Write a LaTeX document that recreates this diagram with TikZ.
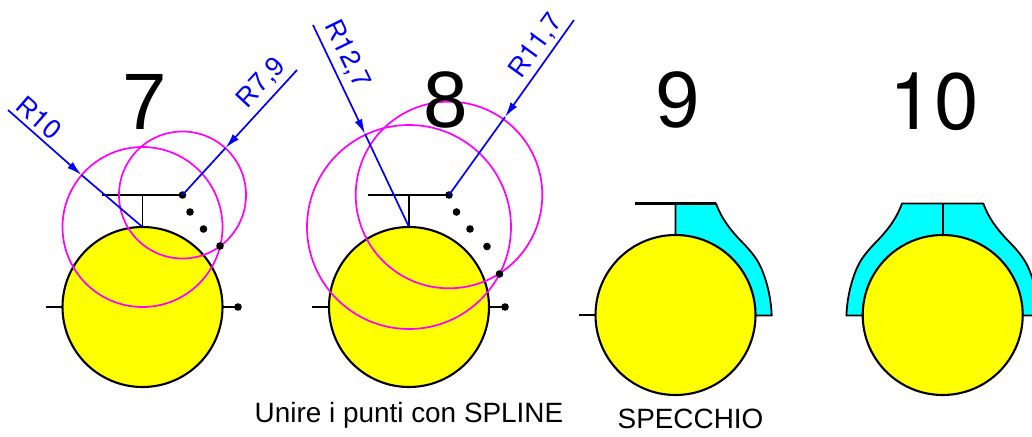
\documentclass[tikz,border=0pt]{standalone}
\usepackage{fontspec}
\setmainfont{Liberation Sans}
\newfontfamily\heros{TeX Gyre Heros}
\usetikzlibrary{arrows.meta}
\definecolor{pyellow}{RGB}{255,255,0}
\definecolor{pcyan}{RGB}{0,255,255}
\definecolor{pmagenta}{RGB}{255,0,255}
\definecolor{pblue}{RGB}{0,0,255}
\tikzset{
  x=1pt,y=-1pt,
  roller/.style={draw=black,fill=pyellow,line width=2.1pt},
  guide/.style={draw=pmagenta,line width=1.7pt},
  bar/.style={draw=black,line width=2.6pt},
  stem/.style={draw=black,line width=1.8pt},
  tick/.style={draw=black,line width=1.5pt},
  radius line/.style={draw=pblue,line width=1.7pt},
  radius arrow/.style={draw=pblue,line width=1.7pt,-{Latex[length=15pt,width=8pt]}},
  pointdot/.style={circle,fill=black,inner sep=0pt,minimum size=7.6pt},
  bignum/.style={font=\fontsize{80}{80}\selectfont,inner sep=0pt},
  rlabel/.style={text=pblue,font=\fontsize{27}{27}\selectfont,inner sep=0pt},
  caption/.style={font=\fontsize{27.9}{28}\selectfont,inner sep=0pt},
  mirror/.style={draw=black,fill=pcyan,line width=1.8pt,line join=round},
}
\begin{document}
\begin{tikzpicture}
\clip (0,0) rectangle (1032,436);
% ---------- 7
\coordinate (c7) at (142.5,307);
\draw[tick] (46,307) -- (c7);
\draw[tick] (c7) -- (238,307);
\draw[roller] (c7) circle[radius=80];
\coordinate (t7) at (142.5,227);
\coordinate (m7) at (142.5,195);
\coordinate (l7) at (102,195);
\coordinate (r7) at (182.5,195);
\draw[bar] (l7) -- (r7);
\draw[stem] (m7) -- (t7);
\draw[guide] (t7) circle[radius=80];
\draw[guide] (r7) circle[radius=63.5];
\node[pointdot] (p71) at (r7) {};
\node[pointdot] (p72) at (190,212) {};
\node[pointdot] (p73) at (203.5,229) {};
\node[pointdot] (p74) at (220,246) {};
\node[pointdot] (p75) at (238,307) {};
\coordinate (a7s) at (8,110);
\coordinate (a7t) at (81.5,175);
\draw[radius arrow] (a7s) -- (a7t);
\draw[radius line] (a7t) -- (t7);
\coordinate (b7s) at (297,70);
\coordinate (b7t) at (225.5,148);
\draw[radius arrow] (b7s) -- (b7t);
\draw[radius line] (b7t) -- (r7);
\node[rlabel,rotate=-41] (r10) at (39,118) {R{\heros 10}};
\node[rlabel,rotate=47] (r79) at (261.5,83) {R7,9};
\node[bignum] (n7) at (144.5,101.5) {7};
% ---------- 8
\coordinate (c8) at (409,307);
\draw[tick] (312,307) -- (c8);
\draw[tick] (c8) -- (505,307);
\draw[roller] (c8) circle[radius=80];
\coordinate (t8) at (409,227);
\coordinate (m8) at (409,195);
\coordinate (l8) at (368,195);
\coordinate (r8) at (449,195);
\draw[bar] (l8) -- (r8);
\draw[stem] (m8) -- (t8);
\draw[guide] (t8) circle[radius=102];
\draw[guide] (r8) circle[radius=93.3];
\node[pointdot] (p81) at (r8) {};
\node[pointdot] (p82) at (456.5,212) {};
\node[pointdot] (p83) at (470,229) {};
\node[pointdot] (p84) at (487,246.5) {};
\node[pointdot] (p85) at (499.5,274) {};
\node[pointdot] (p86) at (505,307) {};
\coordinate (a8s) at (313,25);
\coordinate (a8t) at (365,134);
\draw[radius arrow] (a8s) -- (a8t);
\draw[radius line] (a8t) -- (t8);
\coordinate (b8s) at (574,20);
\coordinate (b8t) at (505,117);
\draw[radius arrow] (b8s) -- (b8t);
\draw[radius line] (b8t) -- (r8);
\node[rlabel,rotate=-64] (r127) at (347,54) {R{\heros 12},7};
\node[rlabel,rotate=54] (r117) at (536,46) {R{\heros 11},7};
\node[bignum] (n8) at (446,100) {8};
% ---------- 9
\coordinate (c9) at (675.5,315);
\coordinate (t9) at (675.5,235);
\coordinate (m9) at (675.5,203.5);
\coordinate (l9) at (635,203.5);
\coordinate (r9) at (716,203.5);
\draw[mirror] (m9) -- (r9)
  .. controls (720,214) and (725,224) .. (740,240)
  .. controls (752,252) and (758,260) .. (762,270)
  .. controls (767,282) and (771,298) .. (771.7,315.5)
  -- (755,315.5) -- (t9) -- cycle;
\draw[tick] (579,315) -- (c9);
\draw[roller] (c9) circle[radius=80];
\draw[bar] (l9) -- (r9);
\draw[stem] (m9) -- (t9);
\node[bignum] (n9) at (678,99.5) {9};
% ---------- 10
\coordinate (c10) at (942.7,315);
\coordinate (t10) at (942.7,235);
\coordinate (m10) at (942.7,203.5);
\draw[mirror] (902,203.5) -- (983.3,203.5)
  .. controls (987.3,214) and (992.3,224) .. (1007.3,240)
  .. controls (1019.3,252) and (1025.3,260) .. (1029.3,270)
  .. controls (1034.3,282) and (1038.3,298) .. (1039,315.5)
  -- (846.4,315.5)
  .. controls (847.1,298) and (851.1,282) .. (856.1,270)
  .. controls (860.1,260) and (866.1,252) .. (878.1,240)
  .. controls (893.1,224) and (898,214) .. (902,203.5) -- cycle;
\draw[roller] (c10) circle[radius=80];
\draw[stem] (m10) -- (t10);
\node[bignum,font=\fontsize{80}{80}\selectfont\heros] (n10) at (934,102) {10};
% ---------- captions
\node[caption] (cap1) at (409,415.5) {Unire i punti con SPLINE};
\node[caption] (cap2) at (690.5,419) {SPECCHIO};
\end{tikzpicture}
\end{document}
